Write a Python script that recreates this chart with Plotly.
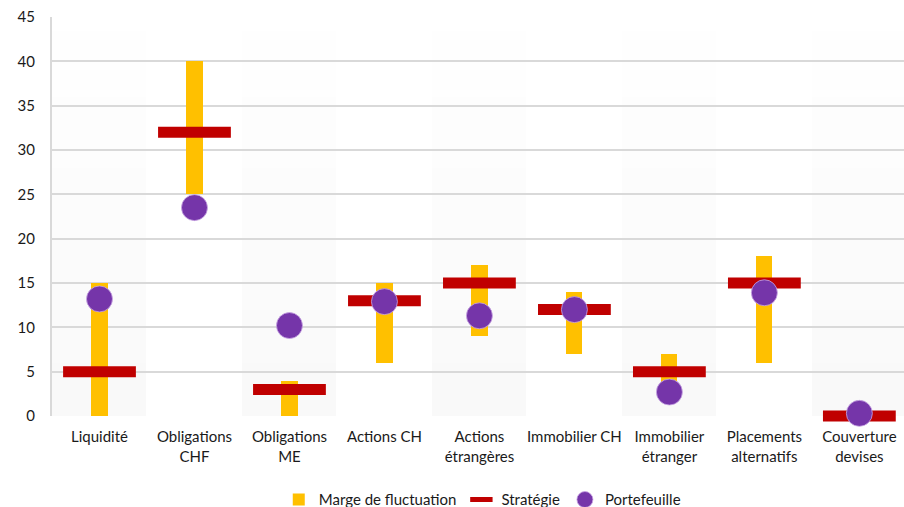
import plotly.graph_objects as go

categories = ["Liquidité", "Obligations<br>CHF", "Obligations<br>ME", "Actions CH",
              "Actions<br>étrangères", "Immobilier CH", "Immobilier<br>étranger",
              "Placements<br>alternatifs", "Couverture<br>devises"]
range_low = [0, 25, 0, 6, 9, 7, 2, 6, 0]
range_high = [15, 40, 4, 15, 17, 14, 7, 18, 0]
strategie = [5, 32, 3, 13, 15, 12, 5, 15, 0]
portefeuille = [13.2, 23.5, 10.2, 12.9, 11.3, 12.0, 2.7, 13.9, 0.3]
y_ticks = [0, 5, 10, 15, 20, 25, 30, 35, 40, 45]

xs = list(range(len(categories)))

fig = go.Figure()
fig.add_trace(go.Bar(
    x=xs, y=[h - l for h, l in zip(range_high, range_low)], base=range_low,
    width=0.17, marker=dict(color="#ffc000", line=dict(width=0)),
    name="Marge de fluctuation"))
fig.add_trace(go.Scatter(
    x=xs, y=strategie, mode="markers", name="Stratégie", cliponaxis=False,
    marker=dict(symbol="line-ew", size=52, color="#c00000",
                line=dict(width=11, color="#c00000"))))
fig.add_trace(go.Scatter(
    x=xs, y=portefeuille, mode="markers", name="Portefeuille", cliponaxis=False,
    marker=dict(symbol="circle", size=26, color="#7535a9",
                line=dict(width=0.8, color="#c9a6e3"))))

shapes = []
tops = [43.5, 36, 28, 20, 12, 6]
for i in range(0, len(categories), 2):
    for t in tops:
        shapes.append(dict(type="rect", xref="x", yref="y", x0=i - 0.5, x1=i + 0.5,
                           y0=0, y1=t, fillcolor="rgba(0,0,0,0.0055)",
                           line=dict(width=0), layer="below"))

fig.update_layout(
    width=904, height=507,
    margin=dict(l=52, r=0, t=17, b=91, autoexpand=False),
    paper_bgcolor="white", plot_bgcolor="rgba(0,0,0,0)",
    font=dict(family="Lato", size=15, color="#1a1a1a"),
    shapes=shapes,
    showlegend=True,
    legend=dict(orientation="h", x=0.505, xanchor="center", y=-0.21, yanchor="middle",
                font=dict(size=15), itemwidth=30, traceorder="normal"),
    bargap=0,
)
fig.update_xaxes(
    range=[-0.5, 8.47], tickmode="array", tickvals=xs, ticktext=categories,
    showgrid=False, zeroline=False, showline=False, ticks="", automargin=False,
    ticklabelstandoff=10, tickfont=dict(size=15))
fig.update_yaxes(
    range=[0, 45], tickmode="array", tickvals=y_ticks, automargin=False,
    showgrid=True, gridcolor="#d9d9d9", gridwidth=2,
    zeroline=False, showline=True, linecolor="#d9d9d9", linewidth=2,
    ticks="", ticklabelstandoff=12, tickfont=dict(size=15))

fig.write_html("out.html", config={"displayModeBar": False},
               post_script="document.body.style.margin='0';document.body.style.overflow='hidden';")
